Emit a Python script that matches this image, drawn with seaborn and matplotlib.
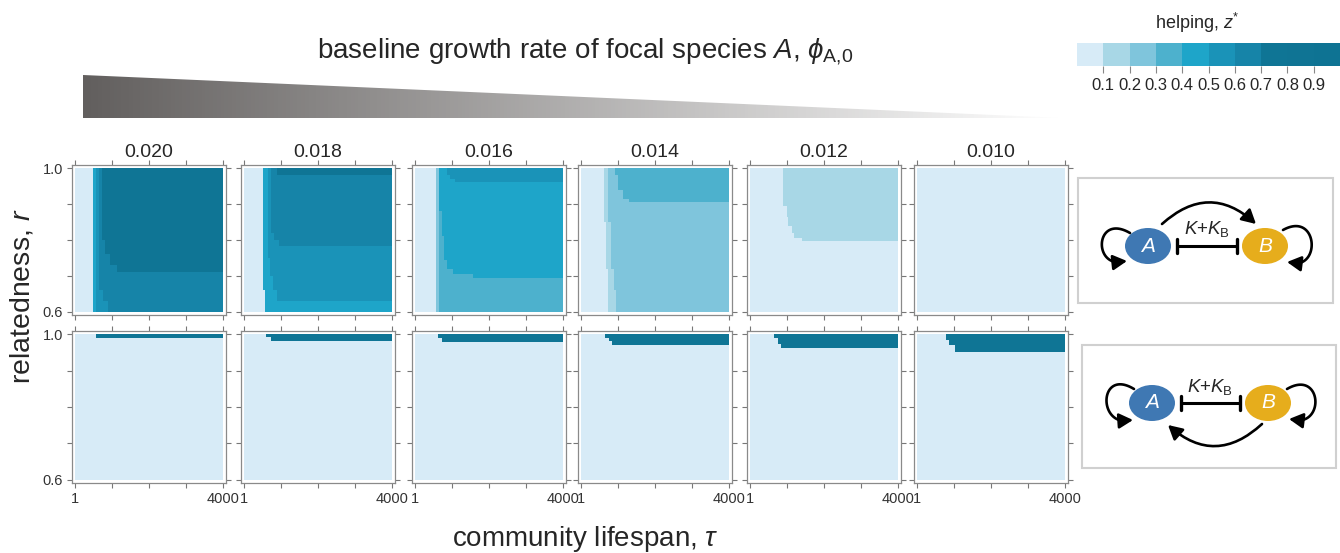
import numpy as np
import matplotlib as mpl
mpl.use('agg')
import matplotlib.pyplot as plt
import seaborn as sns
from matplotlib.colors import ListedColormap, LinearSegmentedColormap, BoundaryNorm
from matplotlib.patches import Ellipse, Rectangle, Polygon, FancyArrowPatch

sns.set_style('white')
plt.rcParams['font.family'] = ['Liberation Sans', 'DejaVu Sans']
plt.rcParams['mathtext.fontset'] = 'custom'
plt.rcParams['mathtext.rm'] = 'Liberation Sans'
plt.rcParams['mathtext.it'] = 'Liberation Sans:italic'
plt.rcParams['mathtext.bf'] = 'Liberation Sans:bold'

# data
growth_rates = ['0.020', '0.018', '0.016', '0.014', '0.012', '0.010']
level_colors = ['#d7ebf7', '#a8d7e6', '#7fc5dc', '#4db1cd', '#1ea5c9',
                '#1a93b8', '#1684a8', '#0f7595', '#0f7494', '#0e7393']
level_ticks = [0.1, 0.2, 0.3, 0.4, 0.5, 0.6, 0.7, 0.8, 0.9]
tau_ticks = [1, 1000, 2000, 3000, 4000]
r_ticks = [0.6, 0.7, 0.8, 0.9, 1.0]
base_level = 0.05

# zones of helping level: (z, tau from, tau to, r from, r to), painted in order
# top row: A helps B, B helps A indirectly (mutualism)
mutual_020 = [(0.45, 476, 4000, 0.60, 1.00), (0.55, 584, 4000, 0.60, 1.00),
              (0.65, 640, 4000, 0.66, 1.00), (0.65, 760, 4000, 0.63, 0.66),
              (0.65, 900, 4000, 0.60, 0.63), (0.75, 720, 4000, 0.80, 1.00),
              (0.75, 800, 4000, 0.76, 0.80), (0.75, 950, 4000, 0.73, 0.76),
              (0.75, 1130, 4000, 0.71, 0.73)]
mutual_018 = [(0.45, 512, 4000, 0.66, 1.00), (0.45, 550, 4000, 0.62, 0.66),
              (0.45, 584, 4000, 0.60, 0.62), (0.55, 656, 4000, 0.75, 1.00),
              (0.55, 700, 4000, 0.70, 0.75), (0.55, 780, 4000, 0.66, 0.70),
              (0.55, 900, 4000, 0.63, 0.66), (0.65, 720, 4000, 0.82, 1.00),
              (0.65, 800, 4000, 0.80, 0.82), (0.65, 950, 4000, 0.785, 0.80),
              (0.75, 900, 4000, 0.98, 1.00)]
mutual_016 = [(0.25, 566, 4000, 0.60, 1.00), (0.35, 640, 4000, 0.60, 1.00),
              (0.45, 656, 4000, 0.88, 1.00), (0.45, 720, 4000, 0.81, 0.88),
              (0.45, 764, 4000, 0.745, 0.81), (0.45, 854, 4000, 0.72, 0.745),
              (0.45, 1030, 4000, 0.705, 0.72), (0.45, 1570, 4000, 0.694, 0.705),
              (0.55, 854, 4000, 0.98, 1.00), (0.55, 950, 4000, 0.97, 0.98),
              (0.55, 1080, 4000, 0.962, 0.97)]
mutual_014 = [(0.15, 630, 4000, 0.85, 1.00), (0.15, 680, 4000, 0.72, 0.85),
              (0.15, 730, 4000, 0.60, 0.72), (0.25, 720, 4000, 0.85, 1.00),
              (0.25, 800, 4000, 0.72, 0.85), (0.25, 900, 4000, 0.66, 0.72),
              (0.25, 950, 4000, 0.60, 0.66), (0.35, 926, 4000, 0.98, 1.00),
              (0.35, 1010, 4000, 0.94, 0.98), (0.35, 1120, 4000, 0.915, 0.94),
              (0.35, 1300, 4000, 0.907, 0.915)]
mutual_012 = [(0.15, 900, 4000, 0.895, 1.00), (0.15, 990, 4000, 0.865, 0.895),
              (0.15, 1030, 4000, 0.84, 0.865), (0.15, 1120, 4000, 0.82, 0.84),
              (0.15, 1210, 4000, 0.805, 0.82), (0.15, 1390, 4000, 0.795, 0.805)]
mutual_010 = []
# bottom row: B harms A (competition)
compet_020 = [(0.75, 560, 4000, 0.990, 1.00)]
compet_018 = [(0.75, 590, 4000, 0.993, 1.00), (0.75, 720, 4000, 0.982, 0.993)]
compet_016 = [(0.75, 620, 4000, 0.990, 1.00), (0.75, 720, 4000, 0.978, 0.990)]
compet_014 = [(0.75, 650, 4000, 0.990, 1.00), (0.75, 740, 4000, 0.980, 0.990),
              (0.75, 830, 4000, 0.971, 0.980)]
compet_012 = [(0.75, 650, 4000, 0.990, 1.00), (0.75, 740, 4000, 0.975, 0.990),
              (0.75, 830, 4000, 0.9625, 0.975)]
compet_010 = [(0.75, 765, 4000, 0.985, 1.00), (0.75, 850, 4000, 0.970, 0.985),
              (0.75, 1030, 4000, 0.953, 0.970)]

mutual_zones = [mutual_020, mutual_018, mutual_016, mutual_014, mutual_012, mutual_010]
compet_zones = [compet_020, compet_018, compet_016, compet_014, compet_012, compet_010]

# grid
nx, ny = 160, 200
tau_c = 1 + (np.arange(nx) + 0.5) * (3999 / nx)
r_c = 1.0 - (np.arange(ny) + 0.5) * (0.4 / ny)
T, R = np.meshgrid(tau_c, r_c)


def build_grid(zones):
    z = np.full(T.shape, base_level)
    for level, t0, t1, r0, r1 in zones:
        z[(T >= t0) & (T <= t1) & (R >= r0) & (R <= r1)] = level
    return z


cmap = ListedColormap(level_colors)
W, H = 1340, 553
fig = plt.figure(figsize=(W / 100, H / 100), dpi=100)

# overlay in pixel coords (gradient wedge + diagrams)
ov = fig.add_axes([0, 0, 1, 1])
ov.axis('off')
grad = LinearSegmentedColormap.from_list('g', ['#625f5e', '#ffffff'])
im = ov.imshow(np.linspace(0, 1, 256)[None, :], cmap=grad, extent=(83, 1062, 118, 75),
               aspect='auto')
wedge = Polygon([(83, 75), (1062, 118), (83, 118)], closed=True, transform=ov.transData)
im.set_clip_path(wedge)
ov.set_xlim(0, W)
ov.set_ylim(H, 0)

ARROW = '-|>,head_length=0.7,head_width=0.38'


def arrow(p0, p1, rad):
    ov.add_patch(FancyArrowPatch(p0, p1, connectionstyle=f'arc3,rad={rad}',
                                 arrowstyle=ARROW, mutation_scale=12, lw=1.9,
                                 color='black', shrinkA=0, shrinkB=0))


def loop(p0, c1, c2, p1):
    # self-interaction loop: cubic curve, arrow head at its end
    t = np.linspace(0, 1, 60)[:, None]
    pts = ((1 - t) ** 3 * np.array(p0) + 3 * (1 - t) ** 2 * t * np.array(c1)
           + 3 * (1 - t) * t ** 2 * np.array(c2) + t ** 3 * np.array(p1))
    ov.plot(pts[:-4, 0], pts[:-4, 1], color='black', lw=1.9, solid_capstyle='round')
    ov.add_patch(FancyArrowPatch(tuple(pts[-8]), tuple(pts[-1]), arrowstyle=ARROW,
                                 mutation_scale=12, lw=1.9, color='black',
                                 shrinkA=0, shrinkB=0))


def diagram(box, a, b, label_y, inhib):
    x0, y0, x1, y1 = box
    ov.add_patch(Rectangle((x0, y0), x1 - x0, y1 - y0, fill=False, ec='#d0d0d0', lw=1.5))
    for (cx, cy), col, name in [(a, '#3f78b3', 'A'), (b, '#e6ad1c', 'B')]:
        ov.add_patch(Ellipse((cx, cy), 46, 36, fc=col, ec='none'))
        ov.text(cx, cy, name, color='white', fontsize=15, style='italic',
                ha='center', va='center')
    xa, xb, yi = inhib
    ov.plot([xa, xb], [yi, yi], color='black', lw=2.2)
    for xx in (xa, xb):
        ov.plot([xx, xx], [yi - 7, yi + 7], color='black', lw=2.4)
    ov.text((xa + xb) / 2, label_y, '$K$+$K_{\\mathrm{B}}$', fontsize=13.5,
            ha='center', va='center')


diagram((1078, 178, 1333, 303), (1148, 246), (1265, 246), 229, (1177, 1237, 246))
arrow((1162, 224), (1256, 224), -0.45)
loop((1130, 233), (1094, 212), (1092, 272), (1127, 261))
loop((1283, 230), (1319, 210), (1322, 274), (1287, 262))

diagram((1082, 345, 1336, 468), (1152, 403), (1268, 403), 387, (1181, 1240, 403))
arrow((1262, 424), (1168, 425), -0.45)
loop((1134, 389), (1098, 367), (1097, 430), (1133, 420))
loop((1287, 389), (1323, 368), (1326, 431), (1289, 419))

# heatmap panels
lefts = [72, 241, 412, 578, 747, 914]
rows = [(165, 315), (331, 483)]
pw = 154
for row, zone_list in enumerate([mutual_zones, compet_zones]):
    top, bot = rows[row]
    for col in range(6):
        ax = fig.add_axes([lefts[col] / W, 1 - bot / H, pw / W, (bot - top) / H])
        sns.heatmap(build_grid(zone_list[col]), ax=ax, cmap=cmap, vmin=0, vmax=1,
                    cbar=False, xticklabels=False, yticklabels=False, rasterized=True)
        ax.set_facecolor('white')
        ax.set_xlim(-0.022 * nx, 1.022 * nx)
        ax.set_ylim(1.022 * ny, -0.022 * ny)
        ax.set_xticks([(t - 1) / 3999 * nx for t in tau_ticks])
        ax.set_yticks([(1.0 - r) / 0.4 * ny for r in r_ticks])
        if row == 1:
            ax.set_xticklabels(['1', '', '', '', '4000'])
        else:
            ax.set_xticklabels([])
        if col == 0:
            ax.set_yticklabels(['0.6', '', '', '', '1.0'], rotation=0)
        else:
            ax.set_yticklabels([])
        for s in ax.spines.values():
            s.set_visible(True)
            s.set_color('#8a8a8a')
            s.set_linewidth(0.9)
        ax.tick_params(direction='out', length=3.5, width=0.8, color='#777777',
                       top=True, right=True, bottom=True, left=True,
                       labelsize=10.5, labelcolor='#333333', pad=3)
        if row == 0:
            ax.set_title(growth_rates[col], fontsize=14, pad=6)

# colorbar
cax = fig.add_axes([1077 / W, 1 - 66 / H, (W - 1077) / W, 23 / H])
sm = mpl.cm.ScalarMappable(norm=BoundaryNorm(np.linspace(0, 1, 11), 10), cmap=cmap)
cb = fig.colorbar(sm, cax=cax, orientation='horizontal')
cb.outline.set_visible(False)
cb.minorticks_off()
cb.set_ticks(level_ticks)
cb.set_ticklabels([f'{v:.1f}' for v in level_ticks])
cax.tick_params(length=5, width=0.8, color='#888888', labelsize=12, pad=4)
fig.text(1197 / W, 1 - 23 / H, 'helping, $z^{*}$', ha='center', va='center', fontsize=13)

# labels
fig.text(585 / W, 1 - 52 / H,
         'baseline growth rate of focal species $A$, $\\phi_{\\mathrm{A{,}0}}$',
         ha='center', va='center', fontsize=20)
fig.text(585 / W, 1 - 539 / H, 'community lifespan, $\\tau$', ha='center', va='center',
         fontsize=20)
fig.text(22 / W, 1 - 296 / H, 'relatedness, $r$', ha='center', va='center',
         rotation=90, fontsize=20.5)

fig.savefig('out.png', dpi=100)
